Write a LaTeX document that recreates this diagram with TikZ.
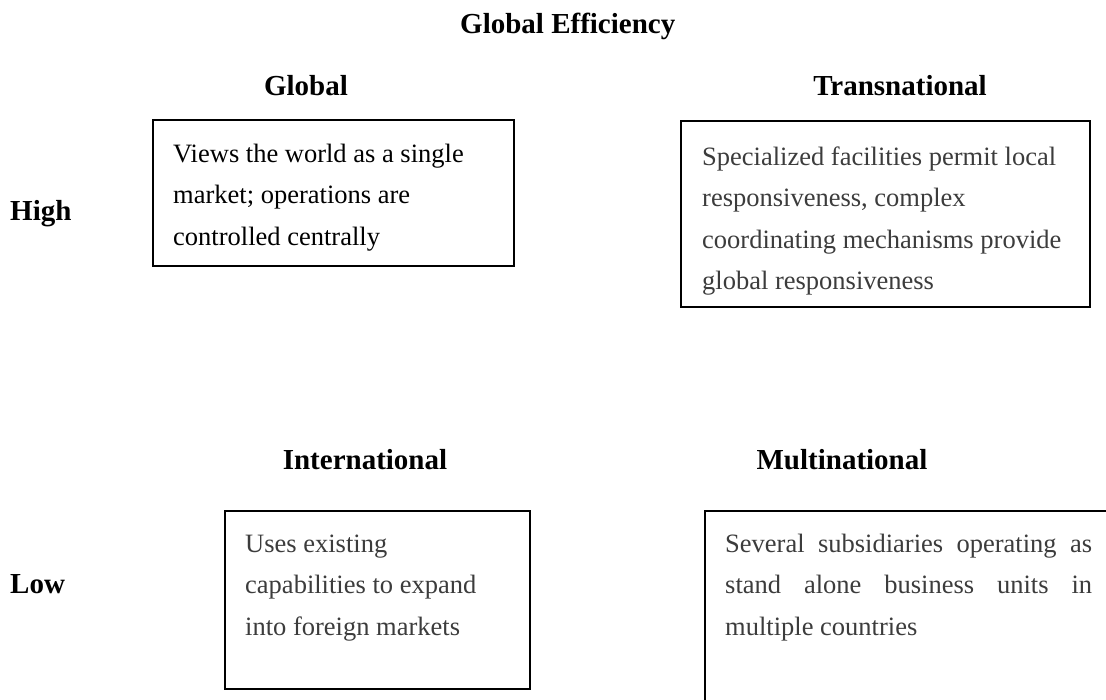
\documentclass[tikz,border=0pt]{standalone}
\usepackage{fontspec}
\setmainfont{Liberation Serif}
\definecolor{bodygray}{HTML}{3C3C3C}
\begin{document}
\begin{tikzpicture}[x=1pt,y=-1pt,
  head/.style={font=\fontsize{29}{34}\selectfont\bfseries, inner sep=0pt, anchor=base},
  side/.style={head, anchor=base west},
  cell/.style={draw=black, line width=1.6pt, anchor=north west, inner sep=0pt},
  body/.style={font=\fontsize{26.5}{41.5}\selectfont, inner sep=0pt,
               anchor=base west, align=left, text=bodygray}]
\useasboundingbox (0,0) rectangle (1106,699);
\clip (0,0) rectangle (1106,699);

% axis and column titles
\node[side] (axis) at (460,33) {Global Efficiency};
\node[head] (tglobal) at (306,95) {Global};
\node[head] (ttrans) at (900,95) {Transnational};
\node[head] (tintl) at (365,469) {International};
\node[head] (tmulti) at (842,469) {Multinational};
\node[side] (high) at (10,220) {High};
\node[side] (low) at (10,593) {Low};

% quadrant boxes
\node[cell, minimum width=361pt, minimum height=146pt] (bglobal) at (152,119) {};
\node[cell, minimum width=409pt, minimum height=186pt] (btrans) at (680,120) {};
\node[cell, minimum width=305pt, minimum height=178pt] (bintl) at (224,510) {};
\node[cell, minimum width=420pt, minimum height=220pt] (bmulti) at (704,510) {};

% box texts (anchored at the baseline of their last line)
\node[body, text=black] (xglobal) at (173,245)
  {Views the world as a single\\market; operations are\\controlled centrally};
\node[body] (xtrans) at (702,289.5)
  {Specialized facilities permit local\\responsiveness, complex\\coordinating mechanisms provide\\global responsiveness};
\node[body] (xintl) at (245,635)
  {Uses existing\\capabilities to expand\\into foreign markets};
\node[body] (xmulti) at (725,635)
  {\makebox[367pt][s]{Several subsidiaries operating as}\\
   \makebox[367pt][s]{stand alone business units in}\\
   multiple countries};
\end{tikzpicture}
\end{document}
